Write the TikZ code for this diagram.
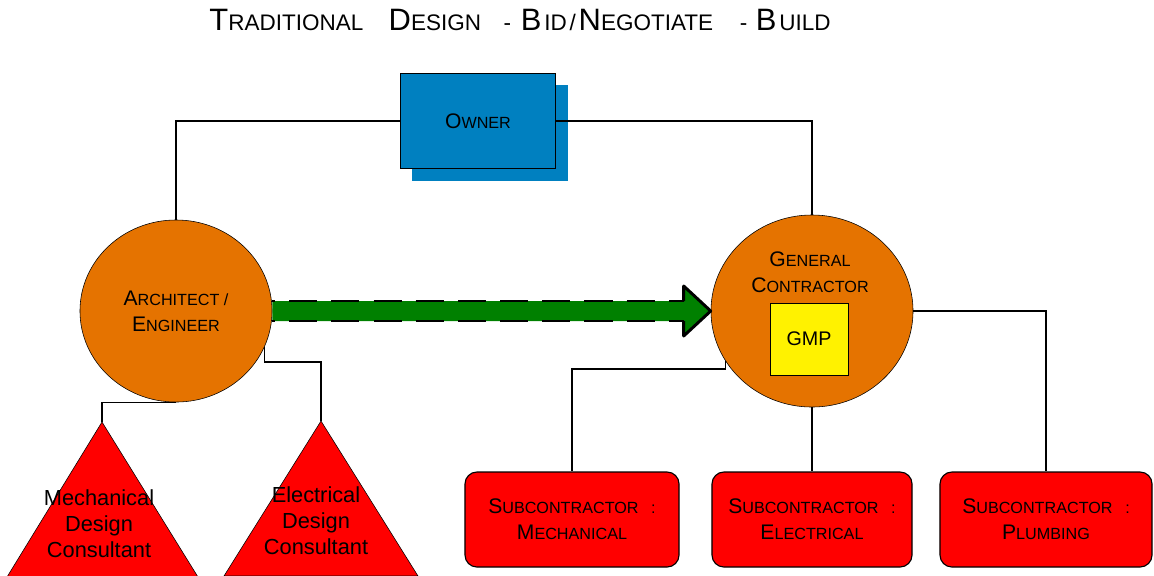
\documentclass[tikz,border=0pt]{standalone}
\usepackage{fontspec}
\setmainfont{Liberation Sans}
\usepackage{tikz}
\usetikzlibrary{shapes.geometric}
\usetikzlibrary{shadows}
\usetikzlibrary{calc}

\definecolor{ownerblue}{RGB}{0,128,192}
\definecolor{roleorange}{RGB}{229,115,0}
\definecolor{arrowgreen}{RGB}{0,128,0}

% fake small caps: first letter big, rest small
\newcommand{\titlesc}[2]{{\fontsize{22}{26}\selectfont #1}{\fontsize{16}{20}\selectfont #2}}
\newcommand{\titlesmall}[1]{{\fontsize{16}{20}\selectfont #1}}
\newcommand{\boxsc}[2]{{\fontsize{15}{20}\selectfont #1}{\fontsize{11.5}{16}\selectfont #2}}

\tikzset{
  party/.style={ellipse, draw=black, fill=roleorange, inner sep=0pt, align=center,
    font=\fontsize{11.5}{18.5}\selectfont},
  subbox/.style={rectangle, rounded corners=0.3cm, draw=black, thick, fill=red,
    minimum height=2.375cm, align=center, font=\fontsize{11.5}{18.5}\selectfont},
  consult/.style={fill=red, draw=black, thin},
  consulttext/.style={align=center, font=\fontsize{15.5}{18.5}\selectfont},
  link/.style={black, line width=1.1pt},
  dashedge/.style={black, line width=2.1pt, dash pattern=on 20pt off 10pt, dash phase=-12pt},
}

\begin{document}
\begin{tikzpicture}[x=0.025cm, y=-0.025cm]
    \useasboundingbox (0,0) rectangle (1154,575);

    \node[inner sep=0pt] (title) at (520,20)
        {\titlesc{T}{RADITIONAL}\hspace{18pt}\titlesc{D}{ESIGN}\hspace{16pt}\titlesmall{-}\hspace{7pt}%
         \titlesc{B}{\hspace{2pt}ID}\titlesmall{\hspace{2pt}/\hspace{2pt}}\titlesc{N}{EGOTIATE}\hspace{19pt}%
         \titlesmall{-}\hspace{6pt}\titlesc{B}{\hspace{2pt}UILD}};

    \node[rectangle, draw=black, thick, fill=ownerblue, minimum width=3.875cm, minimum height=2.375cm,
          general shadow={fill=ownerblue, shadow xshift=0.3cm, shadow yshift=-0.3cm}] (owner) at (478,121)
        {\boxsc{O}{WNER}};

    \node[party, minimum width=4.8cm, minimum height=4.55cm] (arch) at (176,311)
        {\boxsc{A}{RCHITECT /}\\\boxsc{E}{NGINEER}};
    \node[party, minimum width=5.05cm, minimum height=4.8cm] (gc) at (812,311) {};
    \node[align=center, font=\fontsize{11.5}{18.5}\selectfont] (gclabel) at (810,272)
        {\boxsc{G}{ENERAL}\\\boxsc{C}{ONTRACTOR}};
    \node[rectangle, draw=black, fill=yellow, minimum width=1.95cm, minimum height=1.8cm,
          font=\fontsize{14}{16}\selectfont] (gmp) at (809,339) {GMP};

    % consultants
    \coordinate (mechtop) at (102,422);
    \draw[consult] (mechtop) -- (7,577) -- (198,577) -- cycle;
    \node[consulttext] (mech) at (99,524) {Mechanical\\Design\\Consultant};
    \coordinate (electop) at (321,421);
    \draw[consult] (electop) -- (224,576) -- (418,576) -- cycle;
    \node[consulttext] (elec) at (316,521) {Electrical\\Design\\Consultant};

    % subcontractors
    \node[subbox, minimum width=5.35cm] (submech) at (572,519.5)
        {\boxsc{S}{UBCONTRACTOR\hspace{9pt}:}\\\boxsc{M}{ECHANICAL}};
    \node[subbox, minimum width=5cm] (subelec) at (812,519.5)
        {\boxsc{S}{UBCONTRACTOR\hspace{9pt}:}\\\boxsc{E}{LECTRICAL}};
    \node[subbox, minimum width=5.3cm] (subplumb) at (1046,519.5)
        {\boxsc{S}{UBCONTRACTOR\hspace{9pt}:}\\\boxsc{P}{LUMBING}};

    % contract lines
    \draw[link] (owner.west) -| (arch.north);
    \draw[link] (owner.east) -| (gc.north);
    \draw[link] (arch.south) -| (mechtop);
    \draw[link] (arch.-22) -- ++(0,15) -| (electop);
    \draw[link, line width=0.8pt] (gc.210) -- ++(0,8) -| (submech.north);
    \draw[link] (gc.south) -- (subelec.north);
    \draw[link] (gc.east) -| (subplumb.north);

    % communication arrow
    \fill[arrowgreen] ($(arch.east)+(0,-10)$) -- ($(gc.west)+(-27,-10)$) -- ++(0,-15) -- (gc.west)
        -- ++(-27,25) -- ++(0,-15) -- ($(arch.east)+(0,10)$) -- cycle;
    \draw[dashedge] ($(arch.east)+(0,-10)$) -- ($(gc.west)+(-27,-10)$);
    \draw[dashedge] ($(arch.east)+(0,10)$) -- ($(gc.west)+(-27,10)$);
    \draw[black, line width=2.1pt, line join=round] ($(gc.west)+(-27,-10)$) -- ++(0,-15) -- (gc.west)
        -- ++(-27,25) -- ++(0,-15);
\end{tikzpicture}
\end{document}
